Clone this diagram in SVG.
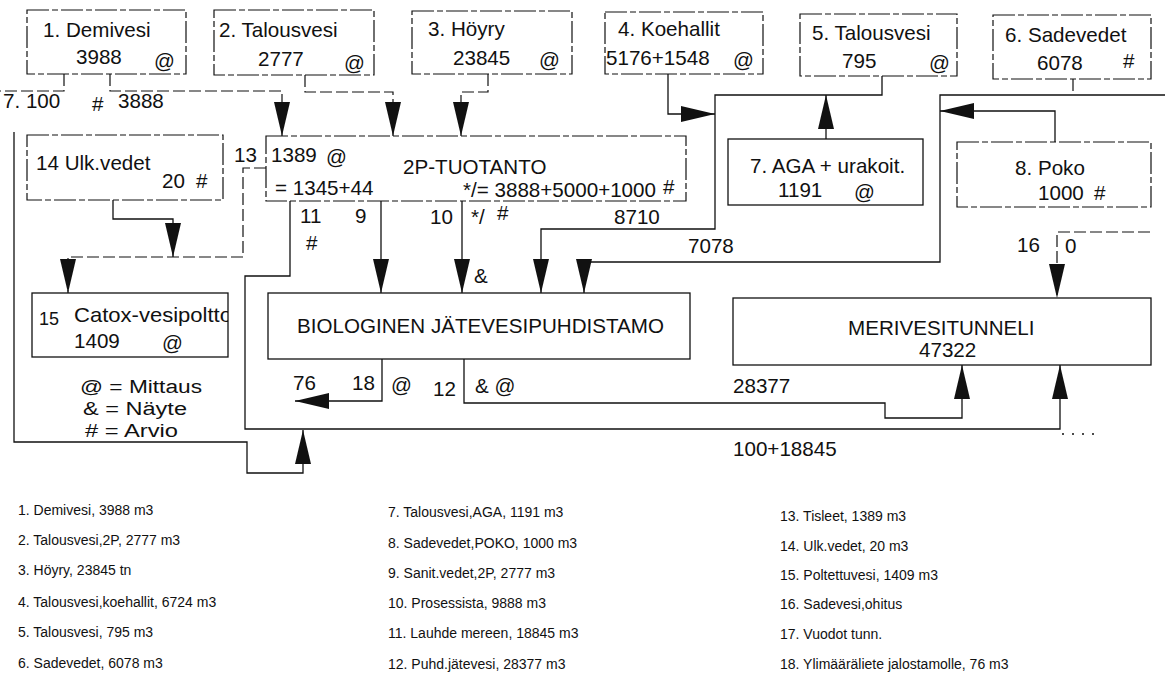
<svg xmlns="http://www.w3.org/2000/svg" width="1168" height="700" viewBox="0 0 1168 700">
<style>
text{font-family:"Liberation Sans",Arial,sans-serif;fill:#111;}
.t{font-size:20.6px;}
.k{font-size:18px;}
.s{font-size:14px;}
.box{fill:none;stroke:#111;stroke-width:1.3;}
.dbox{fill:none;stroke:#111;stroke-width:1.2;stroke-dasharray:22 3 6 3;}
.ln{fill:none;stroke:#111;stroke-width:1.3;}
.dl{fill:none;stroke:#111;stroke-width:1.2;stroke-dasharray:12 4;}
.arr{marker-end:url(#ah);}
</style>
<defs>
<marker id="ah" markerUnits="userSpaceOnUse" markerWidth="34" markerHeight="16" refX="34" refY="8" orient="auto" viewBox="0 0 34 16"><path d="M0,0 L34,8 L0,16 z" fill="#111"/></marker>
<clipPath id="clip15"><rect x="32" y="293" width="196" height="64"/></clipPath>
</defs>
<rect width="1168" height="700" fill="#fff"/>

<g id="connectors">
<path class="dl arr" d="M110,74 V91 H282 V136"/>
<path class="dl" d="M64,74 V91 H0"/>
<path class="ln arr" d="M14,132 V442 H247 V473 H303 V430"/>
<path class="dl arr" d="M305,75 V92 H393 V136"/>
<path class="dl arr" d="M488,74 V92 H461 V136"/>
<path class="ln arr" d="M668,74 V114 H715"/>
<path class="ln arr" d="M882,76 V95 H715 V229 H541 V293"/>
<path class="ln arr" d="M826,139 V95"/>
<path class="dl" d="M1073,79 V95"/>
<path class="ln arr" d="M1165,95 H940 V262 H584 V293"/>
<path class="ln arr" d="M1055,142 V111 H940"/>
<path class="dl arr" d="M266,168 H243 V257 H68 V293"/>
<path class="ln arr" d="M113,200 V219 H173 V257"/>
<path class="ln arr" d="M290,201 V276 H245 V429 H1060 V365"/>
<path class="ln" d="M1062,434 H1094" stroke-dasharray="2 8"/>
<path class="ln arr" d="M381,201 V293"/>
<path class="ln arr" d="M462,201 V293"/>
<path class="ln arr" d="M382,359 V401 H295"/>
<path class="ln arr" d="M464,359 V403 H885 V418 H962 V365"/>
<path class="dl arr" d="M1150,232 H1057 V298"/>
</g>

<g id="n1">
<rect class="dbox" x="27" y="10" width="159" height="64"/>
<text class="t" x="43" y="37">1. Demivesi</text>
<text class="t" x="76" y="64">3988</text>
<text class="t" x="154" y="68">@</text>
</g>
<g id="n2">
<rect class="dbox" x="214" y="10" width="160" height="65"/>
<text class="t" x="219" y="37">2. Talousvesi</text>
<text class="t" x="258" y="66">2777</text>
<text class="t" x="344" y="70">@</text>
</g>
<g id="n3">
<rect class="dbox" x="412" y="11" width="160" height="63"/>
<text class="t" x="428" y="36">3. Höyry</text>
<text class="t" x="453" y="65">23845</text>
<text class="t" x="539" y="67">@</text>
</g>
<g id="n4">
<rect class="dbox" x="605" y="12" width="158" height="62"/>
<text class="t" x="618" y="36">4. Koehallit</text>
<text class="t" x="606" y="65">5176+1548</text>
<text class="t" x="733" y="67">@</text>
</g>
<g id="n5">
<rect class="dbox" x="800" y="14" width="157" height="62"/>
<text class="t" x="812" y="40">5. Talousvesi</text>
<text class="t" x="842" y="68">795</text>
<text class="t" x="929" y="70">@</text>
</g>
<g id="n6">
<rect class="dbox" x="993" y="15" width="158" height="64"/>
<text class="t" x="1005" y="42">6. Sadevedet</text>
<text class="t" x="1037" y="70">6078</text>
<text class="t" x="1123" y="68">#</text>
</g>

<g id="labels-top">
<text class="t" x="3" y="108">7. 100</text>
<text class="t" x="92" y="111">#</text>
<text class="t" x="118" y="108">3888</text>
</g>

<g id="n14">
<rect class="dbox" x="27" y="135" width="196" height="65"/>
<text class="t" x="36" y="170">14 Ulk.vedet</text>
<text class="t" x="162" y="188">20</text>
<text class="t" x="196" y="188">#</text>
</g>

<g id="n2p">
<rect class="dbox" x="266" y="136" width="420" height="65"/>
<text class="t" x="271" y="162">1389</text>
<text class="t" x="326" y="164">@</text>
<text class="t" x="403" y="174">2P-TUOTANTO</text>
<text class="t" x="275" y="195">= 1345+44</text>
<text class="t" x="463" y="197">*/= 3888+5000+1000</text>
<text class="t" x="663" y="194">#</text>
</g>

<g id="n7">
<rect class="box" x="728" y="139" width="195" height="66"/>
<text class="t" x="750" y="173">7. AGA + urakoit.</text>
<text class="t" x="778" y="197">1191</text>
<text class="t" x="854" y="199">@</text>
</g>

<g id="n8">
<rect class="dbox" x="957" y="142" width="194" height="65"/>
<text class="t" x="1015" y="175">8. Poko</text>
<text class="t" x="1038" y="200">1000</text>
<text class="t" x="1094" y="200">#</text>
</g>

<g id="connector-labels">
<text class="t" x="234" y="162">13</text>
<text class="t" x="300" y="223">11</text>
<text class="t" x="355" y="223">9</text>
<text class="t" x="306" y="250">#</text>
<text class="t" x="430" y="224">10</text>
<text class="t" x="471" y="224">*/</text>
<text class="t" x="497" y="220">#</text>
<text class="t" x="614" y="224">8710</text>
<text class="t" x="474" y="283">&amp;</text>
<text class="t" x="688" y="253">7078</text>
<text class="t" x="1017" y="252">16</text>
<text class="t" x="1065" y="253">0</text>
<text class="t" x="293" y="390">76</text>
<text class="t" x="352" y="390">18</text>
<text class="t" x="391" y="392">@</text>
<text class="t" x="433" y="396">12</text>
<text class="t" x="475" y="393">&amp; @</text>
<text class="t" x="733" y="393">28377</text>
<text class="t" x="733" y="456">100+18845</text>
</g>

<g id="n15">
<rect class="box" x="32" y="293" width="196" height="64"/>
<text class="t" x="39" y="325" style="font-size:18px">15</text>
<g clip-path="url(#clip15)"><text class="t" x="74" y="322" textLength="158" lengthAdjust="spacingAndGlyphs">Catox-vesipoltto</text></g>
<text class="t" x="74" y="348">1409</text>
<text class="t" x="162" y="350">@</text>
</g>

<g id="nbio">
<rect class="box" x="268" y="293" width="422" height="66"/>
<text class="t" x="297" y="333">BIOLOGINEN JÄTEVESIPUHDISTAMO</text>
</g>

<g id="nmeri">
<rect class="box" x="733" y="298" width="418" height="67"/>
<text class="t" x="848" y="335">MERIVESITUNNELI</text>
<text class="t" x="919" y="357">47322</text>
</g>

<g id="key">
<text class="k" x="80" y="393" textLength="122" lengthAdjust="spacingAndGlyphs">@ = Mittaus</text>
<text class="k" x="83" y="415" textLength="104" lengthAdjust="spacingAndGlyphs">&amp; = Näyte</text>
<text class="k" x="85" y="437" textLength="93" lengthAdjust="spacingAndGlyphs"># = Arvio</text>
</g>

<g id="legend">
<text class="s" x="18" y="515">1. Demivesi, 3988 m3</text>
<text class="s" x="18" y="545">2. Talousvesi,2P, 2777 m3</text>
<text class="s" x="18" y="575">3. Höyry, 23845 tn</text>
<text class="s" x="18" y="607">4. Talousvesi,koehallit, 6724 m3</text>
<text class="s" x="18" y="637">5. Talousvesi, 795 m3</text>
<text class="s" x="18" y="668">6. Sadevedet, 6078 m3</text>
<text class="s" x="388" y="517">7. Talousvesi,AGA, 1191 m3</text>
<text class="s" x="388" y="548">8. Sadevedet,POKO, 1000 m3</text>
<text class="s" x="388" y="578">9. Sanit.vedet,2P, 2777 m3</text>
<text class="s" x="388" y="608">10. Prosessista, 9888 m3</text>
<text class="s" x="388" y="638">11. Lauhde mereen, 18845 m3</text>
<text class="s" x="388" y="669">12. Puhd.jätevesi, 28377 m3</text>
<text class="s" x="780" y="521">13. Tisleet, 1389 m3</text>
<text class="s" x="780" y="551">14. Ulk.vedet, 20 m3</text>
<text class="s" x="780" y="580">15. Poltettuvesi, 1409 m3</text>
<text class="s" x="780" y="609">16. Sadevesi,ohitus</text>
<text class="s" x="780" y="639">17. Vuodot tunn.</text>
<text class="s" x="780" y="669">18. Ylimääräliete jalostamolle, 76 m3</text>
</g>
</svg>
